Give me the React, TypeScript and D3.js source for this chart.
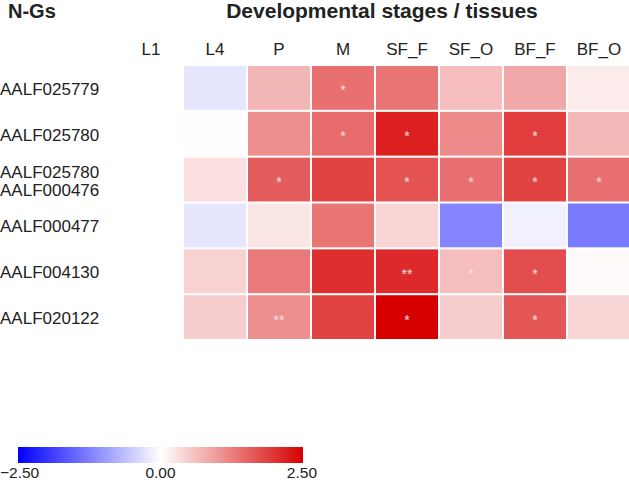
import React from "react";
import * as d3 from "d3";

const columns = ["L1", "L4", "P", "M", "SF_F", "SF_O", "BF_F", "BF_O"];
const rowLabels = [["AALF025779"], ["AALF025780"], ["AALF025780", "AALF000476"], ["AALF000477"], ["AALF004130"], ["AALF020122"]];
// values per row for columns L4..BF_O (L1 has no data)
const values: (number | null)[][] = [
  [null, -0.25, 0.72, 1.4, 1.35, 0.65, 0.85, 0.2],
  [null, 0.02, 1.1, 1.45, 2.2, 1.15, 1.9, 0.7],
  [null, 0.3, 1.6, 1.85, 1.7, 1.4, 1.85, 1.4],
  [null, -0.25, 0.25, 1.35, 0.4, -1.2, -0.15, -1.3],
  [null, 0.45, 1.3, 2.05, 2.1, 0.65, 1.75, 0.05],
  [null, 0.5, 1.1, 1.85, 2.5, 0.5, 1.65, 0.4],
];
const stars: string[][] = [
  ["", "", "", "*", "", "", "", ""],
  ["", "", "", "*", "*", "", "*", ""],
  ["", "", "*", "", "*", "*", "*", "*"],
  ["", "", "", "", "", "", "", ""],
  ["", "", "", "", "**", "*", "*", ""],
  ["", "", "**", "", "*", "", "*", ""],
];
const legendTicks = [-2.5, 0, 2.5];

const W = 629, H = 486;
const FONT = "Liberation Sans, Arial, sans-serif";

export default function App() {
  const color = d3.scaleLinear<string>().domain([-2.5, 0, 2.5]).range(["#0000ff", "#ffffff", "#d70000"]);
  const x = d3.scaleBand().domain(columns).range([120, 630]).paddingInner(0.03).paddingOuter(0);
  const rows = rowLabels.map((_, i) => String(i));
  const y = d3.scaleBand().domain(rows).range([66, 339]).paddingInner(0.045).paddingOuter(0);
  const lx = d3.scaleLinear().domain([-2.5, 2.5]).range([18, 303]);
  const stops = d3.range(0, 1.0001, 0.1).map((t) => ({ t, c: color(-2.5 + 5 * t) }));

  return (
    <svg width={W} height={H} style={{ position: "absolute", left: 0, top: 0, background: "#fff" }} fontFamily={FONT}>
      <text x={8} y={18} fontSize={20} fontWeight="bold" fill="#222">N-Gs</text>
      <text x={382} y={18} fontSize={21} fontWeight="bold" fill="#222" textAnchor="middle">Developmental stages / tissues</text>
      {columns.map((c) => (
        <text key={c} x={(x(c) as number) + x.bandwidth() / 2} y={55} fontSize={17} fill="#222" textAnchor="middle">{c}</text>
      ))}
      {rowLabels.map((lab, i) => {
        const cy = (y(String(i)) as number) + y.bandwidth() / 2;
        const n = lab.length;
        return lab.map((l, k) => (
          <text key={i + "-" + k} x={0} y={cy + (k - (n - 1) / 2) * 18 + 7} fontSize={17} fill="#222">{l}</text>
        ));
      })}
      {values.map((row, i) =>
        row.map((v, j) =>
          v === null ? null : (
            <g key={i + "-" + j}>
              <rect x={x(columns[j])} y={y(String(i))} width={x.bandwidth()} height={y.bandwidth()} fill={color(v)} />
              {stars[i][j] && (
                <text x={(x(columns[j]) as number) + x.bandwidth() / 2} y={(y(String(i)) as number) + y.bandwidth() / 2 + 7.5} fontSize={14} fill="#fae2e2" textAnchor="middle">{stars[i][j]}</text>
              )}
            </g>
          )
        )
      )}
      <defs>
        <linearGradient id="lg" x1="0" x2="1" y1="0" y2="0">
          {stops.map((s) => (
            <stop key={s.t} offset={s.t} stopColor={s.c} />
          ))}
        </linearGradient>
      </defs>
      <rect x={lx(-2.5)} y={447} width={lx(2.5) - lx(-2.5)} height={16} fill="url(#lg)" />
      {legendTicks.map((t, i) => (
        <text key={t} x={i === 0 ? 0 : i === 2 ? 317 : lx(t)} y={478} fontSize={15.5} fill="#222" textAnchor={i === 0 ? "start" : i === 2 ? "end" : "middle"}>{d3.format(".2f")(t)}</text>
      ))}
    </svg>
  );
}
